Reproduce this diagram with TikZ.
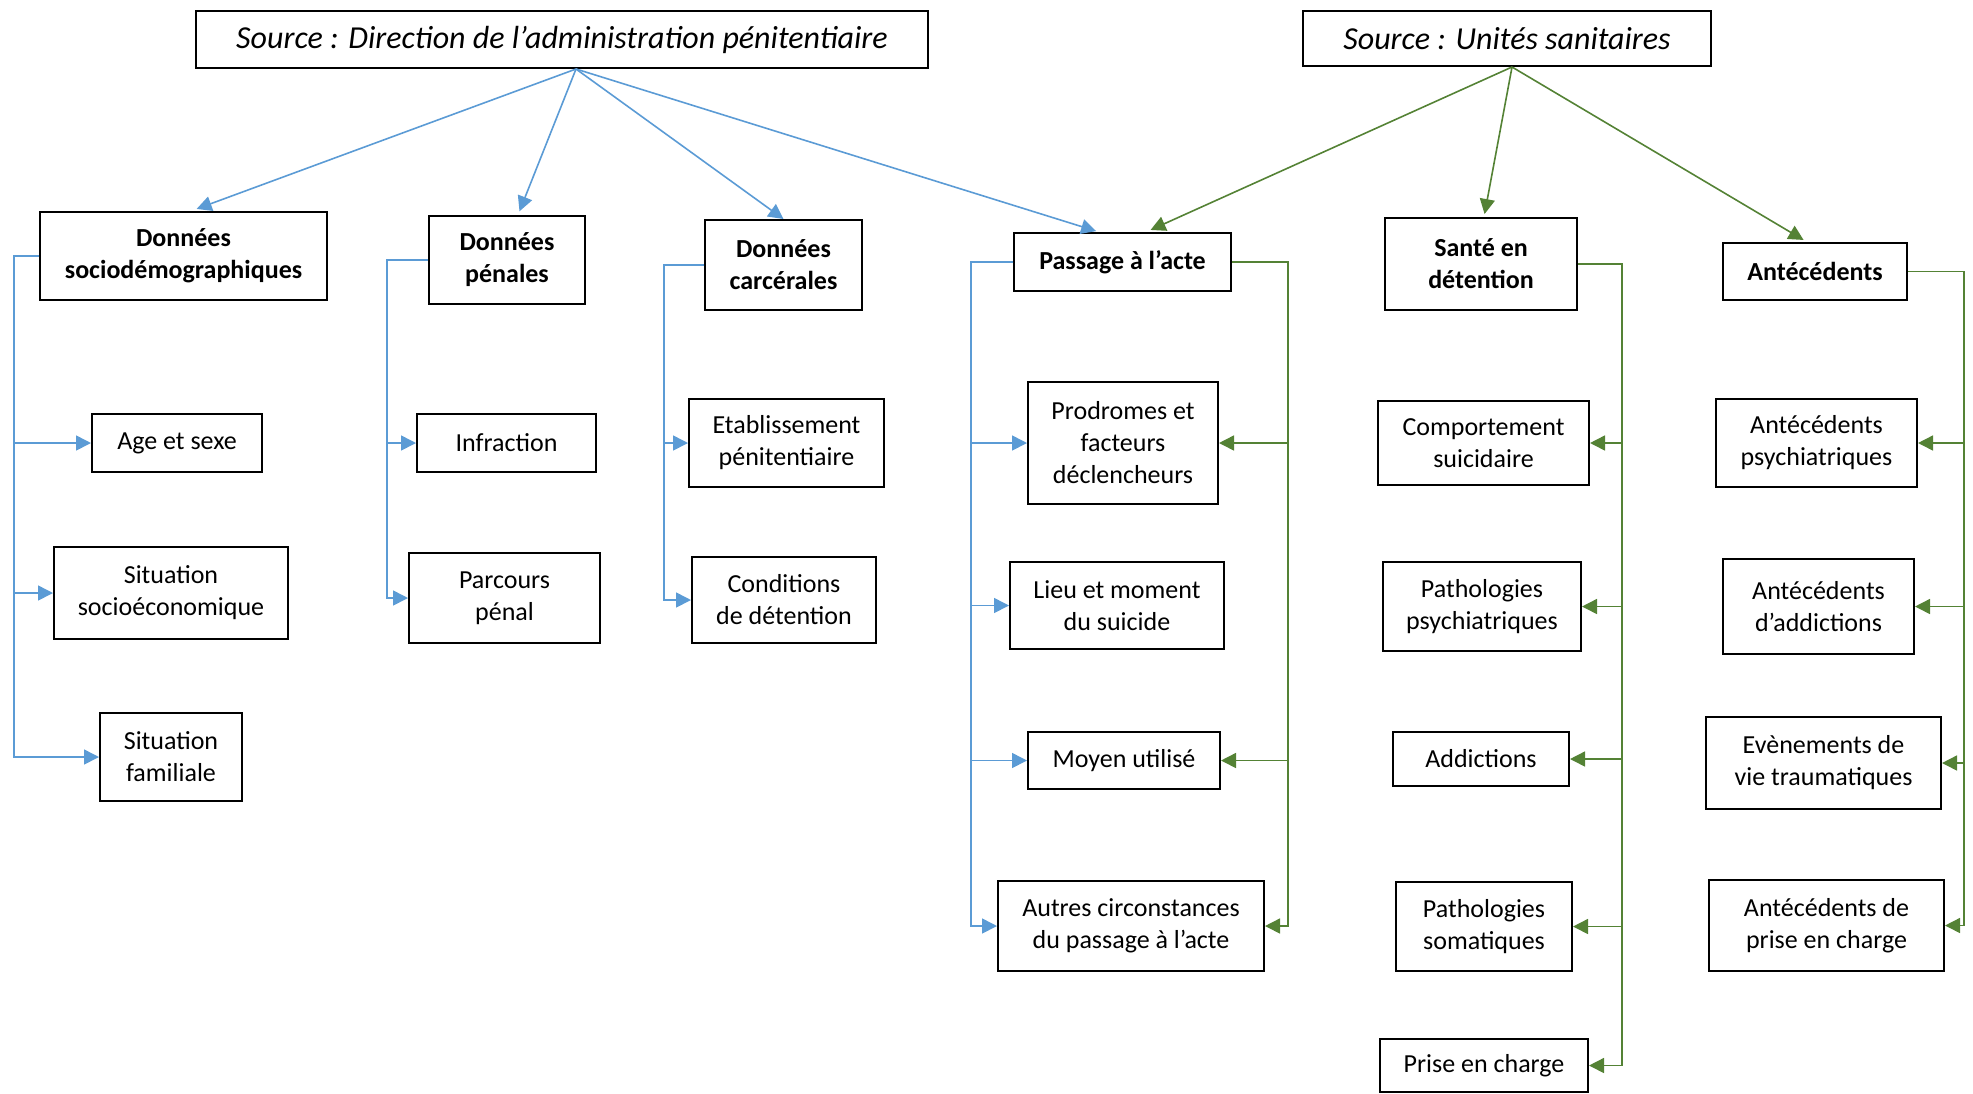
\documentclass[tikz,border=0pt]{standalone}
\usepackage{fontspec}
\setmainfont{Carlito}
\usetikzlibrary{arrows.meta}
\definecolor{bl}{RGB}{91,155,213}
\definecolor{gr}{RGB}{84,130,53}

\begin{document}
\begin{tikzpicture}[x=0.5pt, y=-0.5pt,
  box/.style={draw, line width=1pt, align=center, inner sep=0pt, font=\fontsize{13}{16}\selectfont},
  head/.style={box, font=\fontsize{13}{16}\selectfont\bfseries},
  src/.style={box, font=\fontsize{16}{19}\selectfont\itshape},
  sz/.style 2 args={minimum width=#1*0.5pt, minimum height=#2*0.5pt},
  bluearr/.style={draw=bl, line width=0.8pt, -{Triangle[length=7.5pt,width=7.5pt]}},
  greenarr/.style={draw=gr, line width=0.8pt, -{Triangle[length=7.5pt,width=7.5pt]}}]
    \useasboundingbox (0,0) rectangle (1973,1093);

    \node[src, sz={732}{57}] (dap) at (562,39.5) {Source : Direction de l’administration pénitentiaire};
    \node[src, sz={408}{55}] (us) at (1507,38.5) {Source : Unités sanitaires};

    \node[head, sz={287}{88}] (socio) at (183.5,256) {Données\\sociodémographiques};
    \node[head, sz={156}{88}] (penal) at (507,260) {Données\\pénales};
    \node[head, sz={157}{90}] (carc) at (783.5,265) {Données\\carcérales};
    \node[head, sz={217}{58}] (acte) at (1122.5,262) {Passage à l’acte};
    \node[head, sz={192}{92}] (sante) at (1481,264) {Santé en\\détention};
    \node[head, sz={184}{57}] (atcd) at (1815,271.5) {Antécédents};

    \node[box, sz={170}{58}] (age) at (177,443) {Age et sexe};
    \node[box, sz={234}{92}] (seco) at (171,593) {Situation\\socioéconomique};
    \node[box, sz={142}{88}] (sfam) at (171,757) {Situation\\familiale};

    \node[box, sz={179}{58}] (infr) at (506.5,443) {Infraction};
    \node[box, sz={191}{90}] (parc) at (504.5,598) {Parcours\\pénal};

    \node[box, sz={195}{88}] (etab) at (786.5,443) {Etablissement\\pénitentiaire};
    \node[box, sz={184}{86}] (cond) at (784,600) {Conditions\\de détention};

    \node[box, sz={190}{122}] (prod) at (1123,443) {Prodromes et\\facteurs\\déclencheurs};
    \node[box, sz={214}{87}] (lieu) at (1117,605.5) {Lieu et moment\\du suicide};
    \node[box, sz={192}{57}] (moyen) at (1124,760.5) {Moyen utilisé};
    \node[box, sz={266}{90}] (autre) at (1131,926) {Autres circonstances\\du passage à l’acte};

    \node[box, sz={211}{84}] (comp) at (1483.5,443) {Comportement\\suicidaire};
    \node[box, sz={198}{89}] (ppsy) at (1482,606.5) {Pathologies\\psychiatriques};
    \node[box, sz={176}{54}] (addi) at (1481,759) {Addictions};
    \node[box, sz={176}{89}] (psom) at (1484,926.5) {Pathologies\\somatiques};
    \node[box, sz={208}{53}] (prise) at (1484,1065.5) {Prise en charge};

    \node[box, sz={201}{88}] (apsy) at (1816.5,443) {Antécédents\\psychiatriques};
    \node[box, sz={191}{95}] (aadd) at (1818.5,606.5) {Antécédents\\d’addictions};
    \node[box, sz={235}{92}] (trau) at (1823.5,763) {Evènements de\\vie traumatiques};
    \node[box, sz={235}{91}] (apec) at (1826.5,925.5) {Antécédents de\\prise en charge};

    \draw[bluearr, shorten >=3pt] ([xshift=7pt]dap.south) -- ([xshift=3.75pt]socio.north);
    \draw[bluearr, shorten >=2pt] ([xshift=7pt]dap.south) -- ([xshift=5.5pt]penal.north);
    \draw[bluearr] ([xshift=7pt]dap.south) -- (carc.north);
    \draw[bluearr, shorten >=1.5pt] ([xshift=7pt]dap.south) -- ([xshift=-11.75pt]acte.north);
    \draw[greenarr, shorten >=2.5pt] ([xshift=2.5pt]us.south) -- ([xshift=11.75pt]acte.north);
    \draw[greenarr, shorten >=1.5pt] ([xshift=2.5pt]us.south) -- ([xshift=1.5pt]sante.north);
    \draw[greenarr, shorten >=2pt] ([xshift=2.5pt]us.south) -- ([xshift=-4pt]atcd.north);

    \draw[bluearr] (socio.west) -- ++(-25,0) |- (age.west);
    \draw[bluearr] (socio.west) -- ++(-25,0) |- (seco.west);
    \draw[bluearr] (socio.west) -- ++(-25,0) |- (sfam.west);
    \draw[bluearr] (penal.west) -- ++(-41,0) |- (infr.west);
    \draw[bluearr] (penal.west) -- ++(-41,0) |- (parc.west);
    \draw[bluearr] (carc.west) -- ++(-40,0) |- (etab.west);
    \draw[bluearr] (carc.west) -- ++(-40,0) |- (cond.west);
    \draw[bluearr] (acte.west) -- ++(-42,0) |- (prod.west);
    \draw[bluearr] (acte.west) -- ++(-42,0) |- (lieu.west);
    \draw[bluearr] (acte.west) -- ++(-42,0) |- (moyen.west);
    \draw[bluearr] (acte.west) -- ++(-42,0) |- (autre.west);

    \draw[greenarr] (acte.east) -- ++(56,0) |- (prod.east);
    \draw[greenarr] (acte.east) -- ++(56,0) |- (moyen.east);
    \draw[greenarr] (acte.east) -- ++(56,0) |- (autre.east);
    \draw[greenarr] (sante.east) -- ++(44,0) |- (comp.east);
    \draw[greenarr] (sante.east) -- ++(44,0) |- (ppsy.east);
    \draw[greenarr] (sante.east) -- ++(44,0) |- (addi.east);
    \draw[greenarr] (sante.east) -- ++(44,0) |- (psom.east);
    \draw[greenarr] (sante.east) -- ++(44,0) |- (prise.east);
    \draw[greenarr] (atcd.east) -- ++(56,0) |- (apsy.east);
    \draw[greenarr] (atcd.east) -- ++(56,0) |- (aadd.east);
    \draw[greenarr] (atcd.east) -- ++(56,0) |- (trau.east);
    \draw[greenarr] (atcd.east) -- ++(56,0) |- (apec.east);
\end{tikzpicture}
\end{document}
